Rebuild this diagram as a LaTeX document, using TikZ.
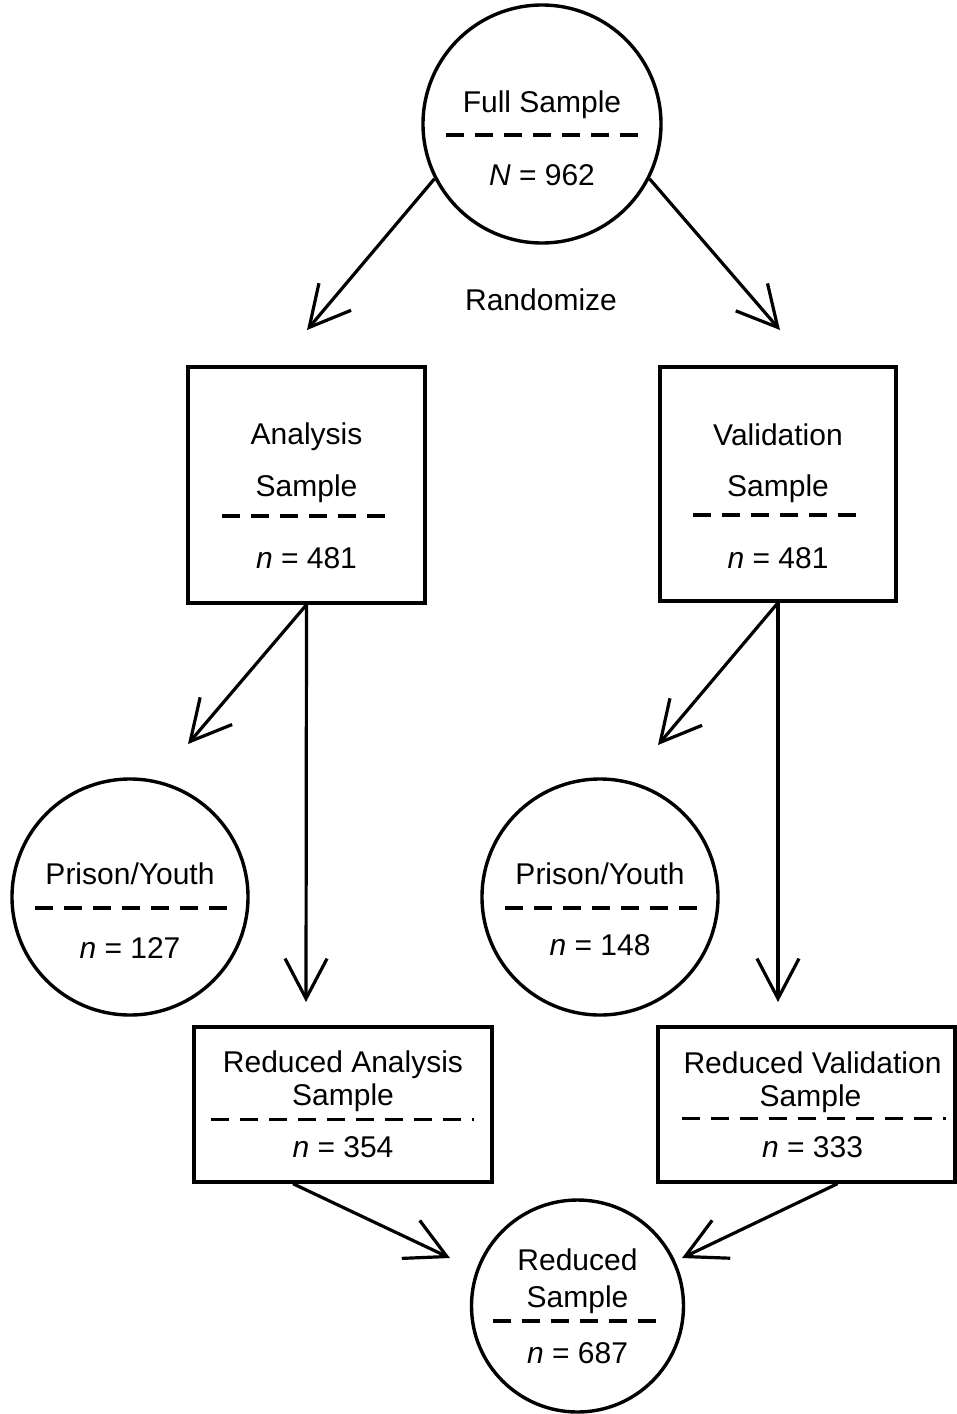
\documentclass[tikz,border=0pt]{standalone}
\usepackage{fontspec}
\setmainfont{Liberation Sans}
\usetikzlibrary{calc, arrows.meta}

\tikzset{
	disk/.style = {draw, circle, line width = 1.7pt, inner sep = 0pt, minimum size = #1},
	box/.style = {draw, rectangle, line width = 1.7pt, inner sep = 0pt},
	txt/.style = {inner sep = 0pt, anchor = base, font = \fontsize{15}{18}\selectfont},
	sep/.style = {line width = 1.8pt, dash pattern = on 9pt off 5.5pt},
	arr/.style = {line width = 1.6pt, -{Straight Barb[length = 20pt, width = 21pt, line width = 1.6pt]}}
}

\begin{document}
\begin{tikzpicture}[x = 0.5pt, y = -0.5pt]
		\useasboundingbox (0,0) rectangle (957,1414);

		% free ends of the arrows
		\coordinate (tipA) at (307,330);
		\coordinate (tipV) at (780,330);
		\coordinate (tipPA) at (188,744);
		\coordinate (tipRA) at (306,1002);
		\coordinate (tipPV) at (658,745);
		\coordinate (tipRV) at (778,1002);
		\coordinate (tipSA) at (450,1258);
		\coordinate (tipSV) at (682,1258);

		% full sample
		\node [disk = 119pt] (full) at (542,124) {};
		\node [txt] (fullT) at ($ (full) + (0,-12) $) {Full Sample};
		\draw [sep] ($ (full) + (-96,11) $) -- ($ (full) + (96,11) $);
		\node [txt] (fullN) at ($ (full) + (0,61) $) {\textit{N} = 962};

		\node [txt] (rand) at (541,310) {Randomize};

		% analysis and validation
		\node [box, minimum width = 118.5pt, minimum height = 118pt] (ana) at (306.5,485) {};
		\node [txt] (anaT) at ($ (ana) + (0,-41) $) {Analysis};
		\node [txt] (anaS) at ($ (ana) + (0,11) $) {Sample};
		\draw [sep] ($ (ana) + (-85,31) $) -- ($ (ana) + (85,31) $);
		\node [txt] (anaN) at ($ (ana) + (0,83) $) {\textit{n} = 481};

		\node [box, minimum width = 118pt, minimum height = 117pt] (val) at (778,484) {};
		\node [txt] (valT) at ($ (val) + (0,-39) $) {Validation};
		\node [txt] (valS) at ($ (val) + (0,12) $) {Sample};
		\draw [sep] ($ (val) + (-85,31) $) -- ($ (val) + (85,31) $);
		\node [txt] (valN) at ($ (val) + (0,84) $) {\textit{n} = 481};

		% prison/youth
		\node [disk = 118pt] (priA) at (130,897) {};
		\node [txt] (priAT) at ($ (priA) + (0,-13) $) {Prison/Youth};
		\draw [sep] ($ (priA) + (-95,11) $) -- ($ (priA) + (97,11) $);
		\node [txt] (priAN) at ($ (priA) + (0,61) $) {\textit{n} = 127};

		\node [disk = 118pt] (priV) at (600,897) {};
		\node [txt] (priVT) at ($ (priV) + (0,-13) $) {Prison/Youth};
		\draw [sep] ($ (priV) + (-95,11) $) -- ($ (priV) + (97,11) $);
		\node [txt] (priVN) at ($ (priV) + (0,58) $) {\textit{n} = 148};

		% reduced samples
		\node [box, minimum width = 149pt, minimum height = 77.5pt] (redA) at (343,1104.5) {};
		\node [txt] (redAT) at ($ (redA) + (0,-32) $) {Reduced Analysis};
		\node [txt] (redAS) at ($ (redA) + (0,1) $) {Sample};
		\draw [sep] ($ (redA) + (-132,15) $) -- ($ (redA) + (131,15) $);
		\node [txt] (redAN) at ($ (redA) + (0,52.5) $) {\textit{n} = 354};

		\node [box, minimum width = 148.5pt, minimum height = 77.5pt] (redV) at (806.5,1104.5) {};
		\node [txt] (redVT) at ($ (redV) + (6,-31) $) {Reduced Validation};
		\node [txt] (redVS) at ($ (redV) + (4,2) $) {Sample};
		\draw [sep] ($ (redV) + (-125,14) $) -- ($ (redV) + (139,14) $);
		\node [txt] (redVN) at ($ (redV) + (6,52.5) $) {\textit{n} = 333};

		\node [disk = 106pt] (red) at (577.5,1306) {};
		\node [txt] (redT) at ($ (red) + (0,-36) $) {Reduced};
		\node [txt] (redS) at ($ (red) + (0,1) $) {Sample};
		\draw [sep] ($ (red) + (-85,15) $) -- ($ (red) + (79,15) $);
		\node [txt] (redN) at ($ (red) + (0,57) $) {\textit{n} = 687};

		% arrows
		\draw [arr] (full.207) -- (tipA);
		\draw [arr] (full.-27) -- (tipV);

		\draw [arr] (ana.south) -- (tipPA);
		\draw [arr] (ana.south) -- (tipRA);
		\draw [arr] (val.south) -- (tipPV);
		\draw [arr] (val.south) -- (tipRV);

		\draw [arr] ($ (redA.south) + (-50,0) $) -- (tipSA);
		\draw [arr] ($ (redV.south) + (31,0) $) -- (tipSV);
	\end{tikzpicture}
\end{document}
